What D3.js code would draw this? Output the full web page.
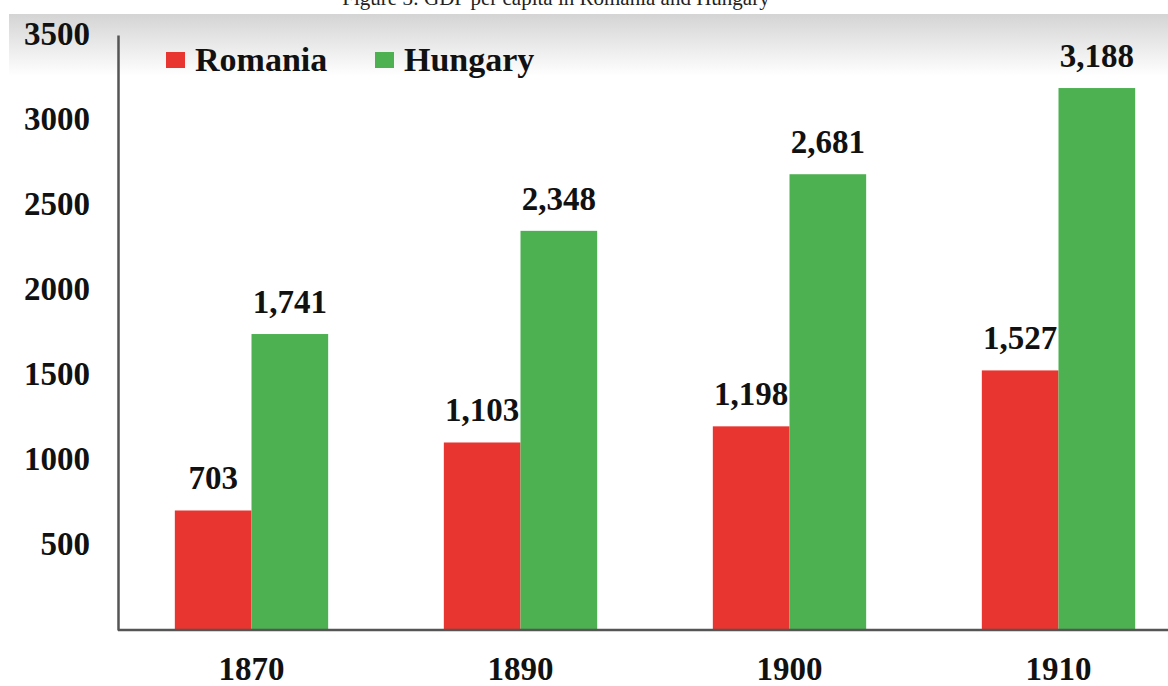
<!DOCTYPE html>
<html><head><meta charset="utf-8">
<script src="https://cdn.jsdelivr.net/npm/d3@7"></script>
<style>body{margin:0;background:#fff}svg{display:block}</style>
</head><body>
<script>
const years = ["1870","1890","1900","1910"];
const seriesNames = ["Romania","Hungary"];
const romania = [703,1103,1198,1527];
const hungary = [1741,2348,2681,3188];
const yTicks = [500,1000,1500,2000,2500,3000,3500];
const colors = ["#e9352f","#4db151"];
const title = "Figure 3: GDP per capita in Romania and Hungary";

const W=1168,H=686;
const svg=d3.select("body").append("svg").attr("width",W).attr("height",H);
const defs=svg.append("defs");
const g=defs.append("linearGradient").attr("id","bg").attr("x1",0).attr("y1",0).attr("x2",0).attr("y2",1);
g.append("stop").attr("offset","0%").attr("stop-color","#d4d4d4");
g.append("stop").attr("offset","100%").attr("stop-color","#ffffff");
svg.append("rect").attr("x",9).attr("y",14).attr("width",W-9).attr("height",62).attr("fill","url(#bg)");

svg.append("text").attr("x",556).attr("y",5).attr("text-anchor","middle")
  .attr("font-family","Liberation Serif").attr("font-size",21).attr("fill","#222").text(title);

const x0=d3.scaleBand().domain(years).range([117,1193]).paddingInner(0.43).paddingOuter(0.215);
const x1=d3.scaleBand().domain(seriesNames).range([0,x0.bandwidth()]);
const y=d3.scaleLinear().domain([0,3500]).range([630,35]);

const font="Liberation Serif";
const data=years.map((yr,i)=>({yr,vals:[romania[i],hungary[i]]}));

const grp=svg.append("g").selectAll("g").data(data).join("g").attr("transform",d=>`translate(${x0(d.yr)},0)`);
grp.selectAll("rect").data(d=>d.vals.map((v,j)=>({v,s:seriesNames[j],j}))).join("rect")
  .attr("x",d=>x1(d.s)).attr("width",x1.bandwidth()).attr("y",d=>y(d.v)).attr("height",d=>y(0)-y(d.v))
  .attr("fill",d=>colors[d.j]);
grp.selectAll("text").data(d=>d.vals.map((v,j)=>({v,s:seriesNames[j],j}))).join("text")
  .attr("x",d=>x1(d.s)+x1.bandwidth()/2).attr("y",d=>y(d.v)-21)
  .attr("text-anchor","middle").attr("font-family",font).attr("font-weight","bold").attr("font-size",33)
  .attr("fill","#111").text(d=>d3.format(",")(d.v));

// axes
const ya=svg.append("g").attr("transform","translate(118,0)")
  .call(d3.axisLeft(y).tickValues(yTicks).tickFormat(d3.format("d")).tickSize(0).tickPadding(28));
ya.select(".domain").attr("stroke","#555").attr("stroke-width",2.5);
ya.selectAll("text").attr("font-family",font).attr("font-weight","bold").attr("font-size",33).attr("fill","#111").attr("dy","0.3em");
const xa=svg.append("g").attr("transform","translate(0,630)").call(d3.axisBottom(x0).tickSize(0).tickPadding(27));
xa.select(".domain").attr("stroke","#555").attr("stroke-width",2.5).attr("d","M118,0H1168");
xa.selectAll("text").attr("font-family",font).attr("font-weight","bold").attr("font-size",33).attr("fill","#111").attr("dy","0.71em");

// legend
const legX=[166,375];
const leg=svg.append("g").selectAll("g").data(seriesNames).join("g").attr("transform",(d,i)=>`translate(${legX[i]},52)`);
leg.append("rect").attr("width",19).attr("height",16).attr("fill",(d,i)=>colors[i]);
leg.append("text").attr("x",29).attr("y",19).attr("font-family",font).attr("font-weight","bold").attr("font-size",34).attr("fill","#111").text(d=>d);
</script>
</body></html>
